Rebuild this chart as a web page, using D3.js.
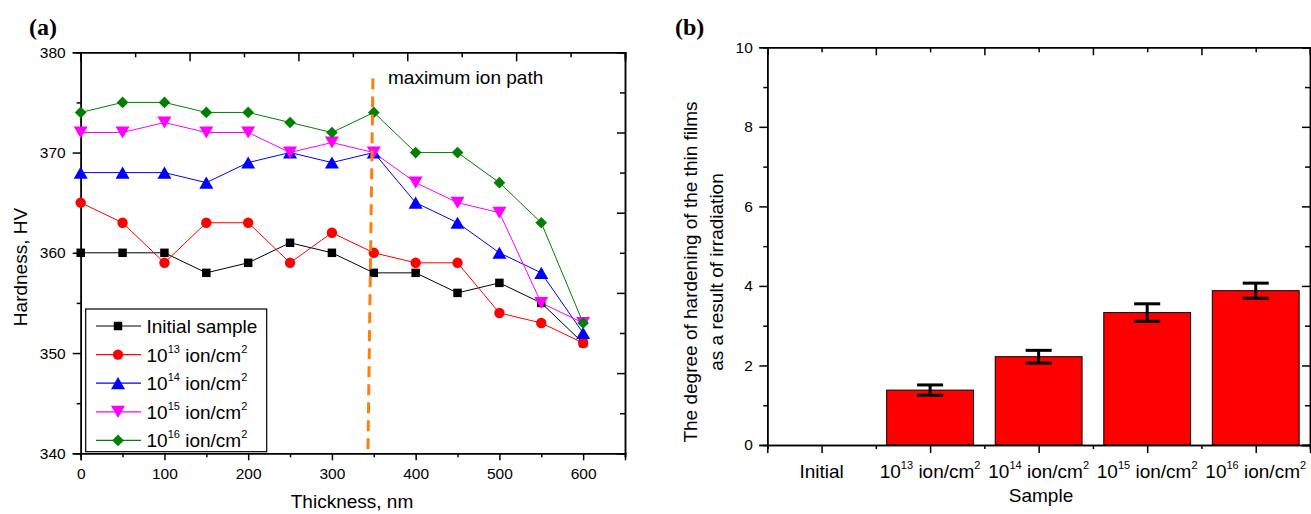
<!DOCTYPE html>
<html><head><meta charset="utf-8">
<script src="https://cdn.jsdelivr.net/npm/d3@7/dist/d3.min.js"></script>
<style>
html,body{margin:0;padding:0;background:#fff;}
</style></head>
<body><svg id="c" width="1311" height="514" font-family="Liberation Sans, Arial, sans-serif"></svg>
<script>
// ---------- data: panel (a) ----------
const thickness = [0,50,100,150,200,250,300,350,400,450,500,550,600];
const initialSample = [360,360,360,358,359,361,360,358,358,356,357,355,351];
const dose13 = [365,363,359,363,363,359,362,360,359,359,354,353,351];
const dose14 = [368,368,368,367,369,370,369,370,365,363,360,358,352];
const dose15 = [372,372,373,372,372,370,371,370,367,365,364,355,353];
const dose16 = [374,375,375,374,374,373,372,374,370,370,367,363,353];
const seriesNames = ["Initial sample","10|13| ion/cm|2","10|14| ion/cm|2","10|15| ion/cm|2","10|16| ion/cm|2"];
const ionPathX = [349,343];
const ionPathY = [377.4,340];
const xTicksA = [0,100,200,300,400,500,600];
const yTicksA = [340,350,360,370,380];
// ---------- data: panel (b) ----------
const samples = ["Initial","10|13| ion/cm|2","10|14| ion/cm|2","10|15| ion/cm|2","10|16| ion/cm|2"];
const hardening = [0,1.38,2.22,3.33,3.88];
const hardeningErr = [0,0.13,0.16,0.22,0.19];
const yTicksB = [0,2,4,6,8,10];

const svg = d3.select("#c");
const FS = 19, TFS = 15.5, SUP = 11;

function richText(sel, s){
  const parts = s.split("|");
  parts.forEach((p,i)=>{
    if(i%2===1){
      sel.append("tspan").attr("font-size",SUP).attr("dy",-9).text(p);
    } else {
      const t = sel.append("tspan").text(p);
      if(i>0) t.attr("dy",9);
    }
  });
}

function styleAxis(g){
  g.attr("font-family",null).attr("font-size",TFS);
  g.select(".domain").attr("stroke","#000").attr("stroke-width",1.5);
  g.selectAll(".tick line").attr("stroke","#000").attr("stroke-width",1.5);
  g.selectAll(".tick text").attr("font-size",TFS).attr("fill","#000");
}

// ================= Panel (a) =================
const A = {l:80.7, r:625, t:52.3, b:453.3};
const xA = d3.scaleLinear().domain([0,650]).range([A.l,A.r]);
const yA = d3.scaleLinear().domain([340,380]).range([A.b,A.t]);
const gA = svg.append("g");

gA.append("g").attr("transform",`translate(0,${A.b})`)
  .call(d3.axisBottom(xA).tickValues(d3.range(50,651,100)).tickSize(4).tickFormat(""))
  .call(styleAxis);
gA.append("g").attr("transform",`translate(0,${A.b})`)
  .call(d3.axisBottom(xA).tickValues(xTicksA).tickSize(7).tickPadding(8).tickFormat(d3.format("d")))
  .call(styleAxis);
gA.append("g").attr("transform",`translate(${A.l},0)`)
  .call(d3.axisLeft(yA).tickValues(d3.range(345,380,10)).tickSize(4).tickFormat(""))
  .call(styleAxis);
gA.append("g").attr("transform",`translate(${A.l},0)`)
  .call(d3.axisLeft(yA).tickValues(yTicksA).tickSize(8).tickPadding(7).tickFormat(d3.format("d")))
  .call(styleAxis);
gA.append("g").attr("transform",`translate(0,${A.t})`)
  .call(d3.axisTop(xA).tickValues(d3.range(65,651,130)).tickSize(-5).tickFormat(""))
  .call(styleAxis);
gA.append("g").attr("transform",`translate(0,${A.t})`)
  .call(d3.axisTop(xA).tickValues(d3.range(0,651,130)).tickSize(-9).tickFormat(""))
  .call(styleAxis);
gA.append("g").attr("transform",`translate(${A.r},0)`)
  .call(d3.axisRight(yA).tickValues(d3.range(344,380,8)).tickSize(-5).tickFormat(""))
  .call(styleAxis);
gA.append("g").attr("transform",`translate(${A.r},0)`)
  .call(d3.axisRight(yA).tickValues(d3.range(340,381,8)).tickSize(-8).tickFormat(""))
  .call(styleAxis);

const colors = ["#000000","#ff0000","#0000ff","#ff00ff","#008000"];
const symbols = [
  {type:d3.symbolSquare, size:72, rot:0, dy:0},
  {type:d3.symbolCircle, size:85, rot:0, dy:0},
  {type:d3.symbolTriangle, size:85, rot:0, dy:2},
  {type:d3.symbolTriangle, size:85, rot:180, dy:-2},
  {type:d3.symbolSquare, size:68, rot:45, dy:0}
];
const allSeries = [initialSample,dose13,dose14,dose15,dose16];

const line = d3.line().x((d,i)=>xA(thickness[i])).y(d=>yA(d));
allSeries.forEach((s,k)=>{
  gA.append("path").datum(s).attr("d",line).attr("fill","none")
    .attr("stroke",colors[k]).attr("stroke-width",1);
});
allSeries.forEach((s,k)=>{
  const sym = symbols[k];
  gA.append("g").selectAll("path").data(s).join("path")
    .attr("d",d3.symbol().type(sym.type).size(sym.size))
    .attr("transform",(d,i)=>`translate(${xA(thickness[i])},${yA(d)+sym.dy}) rotate(${sym.rot})`)
    .attr("fill",colors[k]);
});

gA.append("line")
  .attr("x1",xA(ionPathX[0])).attr("y1",yA(ionPathY[0]))
  .attr("x2",xA(ionPathX[1])).attr("y2",yA(ionPathY[1]))
  .attr("stroke","#ff7f0e").attr("stroke-width",3).attr("stroke-dasharray","11,7");
gA.append("text").attr("x",388).attr("y",84).attr("font-size",FS).text("maximum ion path");

// legend
const lg = gA.append("g");
lg.append("rect").attr("x",85.7).attr("y",309).attr("width",181).attr("height",142.7)
  .attr("fill","#fff").attr("stroke","#000").attr("stroke-width",1.2);
seriesNames.forEach((n,k)=>{
  const yy = 326 + k*28.6;
  lg.append("line").attr("x1",96).attr("x2",141).attr("y1",yy).attr("y2",yy)
    .attr("stroke",colors[k]).attr("stroke-width",1.2);
  const sym = symbols[k];
  lg.append("path").attr("d",d3.symbol().type(sym.type).size(sym.size)())
    .attr("transform",`translate(118,${yy + sym.dy}) rotate(${sym.rot})`)
    .attr("fill",colors[k]);
  const t = lg.append("text").attr("x",146.5).attr("y",yy+7).attr("font-size",FS);
  richText(t,n);
});

gA.append("text").attr("x",352).attr("y",508).attr("text-anchor","middle").attr("font-size",FS).text("Thickness, nm");
gA.append("text").attr("transform","translate(27,267) rotate(-90)").attr("text-anchor","middle").attr("font-size",FS).text("Hardness, HV");
gA.append("text").attr("x",29).attr("y",35).attr("font-family","Liberation Serif, Times New Roman, serif")
  .attr("font-weight","bold").attr("font-size",24).text("(a)");

// ================= Panel (b) =================
const B = {l:767.3, r:1310, t:47.3, b:445};
const xB = d3.scaleBand().domain(samples).range([B.l,B.r]).paddingInner(0.2).paddingOuter(0.1);
const yB = d3.scaleLinear().domain([0,10]).range([B.b,B.t]);
const gB = svg.append("g");
const step = xB.step();
const centers = samples.map(s=>xB(s)+xB.bandwidth()/2);
const edges = d3.range(samples.length+1).map(i=>B.l + i*step);
const xLin = d3.scaleLinear().domain([B.l,B.r]).range([B.l,B.r]);

gB.append("g").selectAll("rect").data(hardening).join("rect")
  .attr("x",(d,i)=>xB(samples[i])).attr("width",xB.bandwidth())
  .attr("y",d=>yB(d)).attr("height",d=>yB(0)-yB(d))
  .attr("fill","#ff0000").attr("stroke","#000").attr("stroke-width",1);

hardening.forEach((v,i)=>{
  if(hardeningErr[i]<=0) return;
  const cx = centers[i], e = hardeningErr[i];
  const g = gB.append("g");
  g.append("line").attr("x1",cx).attr("x2",cx).attr("y1",yB(v+e)).attr("y2",yB(v-e)).attr("stroke","#000").attr("stroke-width",3);
  [v+e,v-e].forEach(yy=>{
    g.append("line").attr("x1",cx-13).attr("x2",cx+13).attr("y1",yB(yy)).attr("y2",yB(yy)).attr("stroke","#000").attr("stroke-width",3);
  });
});

gB.append("g").attr("transform",`translate(${B.l},0)`)
  .call(d3.axisLeft(yB).tickValues(d3.range(1,10,2)).tickSize(4).tickFormat(""))
  .call(styleAxis);
gB.append("g").attr("transform",`translate(${B.l},0)`)
  .call(d3.axisLeft(yB).tickValues(yTicksB).tickSize(8).tickPadding(6.5).tickFormat(d3.format("d")))
  .call(styleAxis);
gB.append("g").attr("transform",`translate(${B.r},0)`)
  .call(d3.axisRight(yB).tickValues(d3.range(1,10,2)).tickSize(-5).tickFormat(""))
  .call(styleAxis);
gB.append("g").attr("transform",`translate(${B.r},0)`)
  .call(d3.axisRight(yB).tickValues(yTicksB).tickSize(-8).tickFormat(""))
  .call(styleAxis);
gB.append("g").attr("transform",`translate(0,${B.b})`)
  .call(d3.axisBottom(xLin).tickValues(edges).tickSize(4).tickFormat(""))
  .call(styleAxis);
gB.append("g").attr("transform",`translate(0,${B.b})`)
  .call(d3.axisBottom(xLin).tickValues(centers).tickSize(8).tickFormat(""))
  .call(styleAxis);
gB.append("g").attr("transform",`translate(0,${B.t})`)
  .call(d3.axisTop(xLin).tickValues(centers).tickSize(-5).tickFormat(""))
  .call(styleAxis);
gB.append("g").attr("transform",`translate(0,${B.t})`)
  .call(d3.axisTop(xLin).tickValues(edges).tickSize(-8).tickFormat(""))
  .call(styleAxis);

samples.forEach((s,i)=>{
  const t = gB.append("text").attr("x",centers[i]).attr("y",478).attr("text-anchor","middle").attr("font-size",FS);
  richText(t,s);
});
gB.append("text").attr("x",1041).attr("y",502).attr("text-anchor","middle").attr("font-size",FS).text("Sample");
gB.append("text").attr("transform","translate(697,272) rotate(-90)").attr("text-anchor","middle").attr("font-size",FS)
  .text("The degree of hardening of the thin films");
gB.append("text").attr("transform","translate(723,272) rotate(-90)").attr("text-anchor","middle").attr("font-size",FS)
  .text("as a result of irradiation");
gB.append("text").attr("x",675).attr("y",35).attr("font-family","Liberation Serif, Times New Roman, serif")
  .attr("font-weight","bold").attr("font-size",24).text("(b)");
</script></body></html>
